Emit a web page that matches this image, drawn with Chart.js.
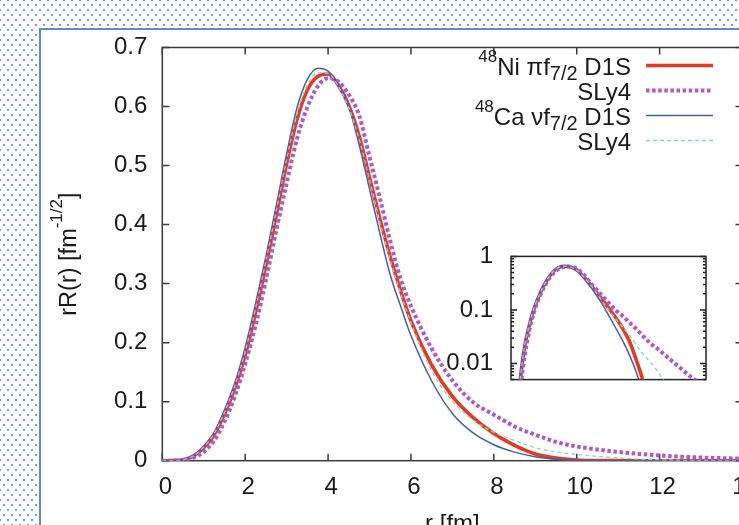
<!DOCTYPE html>
<html>
<head>
<meta charset="utf-8">
<title>f7/2 radial wave functions</title>
<script src="https://cdn.jsdelivr.net/npm/chart.js@4.4.1/dist/chart.umd.min.js"></script>
<style>
  html, body { margin: 0; padding: 0; }
  body {
    position: relative;
    width: 739px;
    height: 525px;
    overflow: hidden;
    background-color: #fff;
    background-image:
      radial-gradient(circle, #6f9fe0 1px, transparent 1.5px),
      radial-gradient(circle, #6f9fe0 1px, transparent 1.5px);
    background-size: 8px 10px;
    background-position: 0 0, 4px 5px;
  }
  #panel {
    position: absolute;
    left: 39px;
    top: 28px;
    width: 760px;
    height: 560px;
    background: #fff;
    border: 2px solid #5a8ad8;
  }
  #main { position: absolute; left: 0; top: 0; }
  #inset { position: absolute; left: 440px; top: 224px; }
</style>
</head>
<body>
<div id="panel"></div>
<canvas id="main" width="780" height="560"></canvas>
<canvas id="inset" width="290" height="188"></canvas>
<script>
// r grid [fm]
const radius = [0, 0.25, 0.5, 0.75, 1, 1.25, 1.5, 1.75, 2, 2.25, 2.5, 2.75, 3, 3.25, 3.5, 3.75,
  4, 4.25, 4.5, 4.75, 5, 5.25, 5.5, 5.75, 6, 6.5, 7, 7.5, 8, 8.5, 9, 9.5, 10, 10.5, 11, 11.5,
  12, 12.5, 13, 13.5, 14];

// rR(r) [fm^-1/2]
const niD1S = [0, 0.0001, 0.0016, 0.0078, 0.022, 0.044, 0.079, 0.123, 0.179, 0.251, 0.331, 0.416,
  0.503, 0.578, 0.628, 0.651, 0.655, 0.636, 0.602, 0.55, 0.48, 0.41, 0.345, 0.288, 0.237, 0.162,
  0.109, 0.073, 0.046, 0.026, 0.0115, 0.0045, 0.0013, 0.0003, 0.00006, 0.00001, 0.000002,
  0.000001, 0.000001, 0.000001, 0.000001];
const niSLy4 = [0, 0.0001, 0.001, 0.005, 0.015, 0.034, 0.066, 0.109, 0.164, 0.229, 0.306, 0.39,
  0.47, 0.545, 0.599, 0.634, 0.648, 0.642, 0.62, 0.585, 0.515, 0.445, 0.372, 0.308, 0.262, 0.19,
  0.136, 0.099, 0.078, 0.058, 0.044, 0.032, 0.024, 0.019, 0.0148, 0.0115, 0.0089, 0.0069,
  0.0054, 0.0043, 0.0034];
const caD1S = [0, 0.0001, 0.002, 0.009, 0.025, 0.048, 0.086, 0.132, 0.192, 0.266, 0.346, 0.432,
  0.52, 0.598, 0.646, 0.665, 0.66, 0.636, 0.6, 0.535, 0.46, 0.385, 0.315, 0.262, 0.212, 0.135,
  0.08, 0.047, 0.027, 0.0145, 0.0068, 0.0026, 0.0008, 0.0002, 0.00005, 0.00001, 0.000002,
  0.000001, 0.000001, 0.000001, 0.000001];
const caSLy4 = [0, 0.0001, 0.0017, 0.0082, 0.023, 0.046, 0.082, 0.127, 0.185, 0.258, 0.338, 0.423,
  0.51, 0.587, 0.636, 0.657, 0.656, 0.634, 0.598, 0.545, 0.476, 0.405, 0.34, 0.284, 0.234, 0.152,
  0.101, 0.069, 0.048, 0.034, 0.022, 0.0148, 0.0105, 0.0073, 0.0047, 0.0028, 0.0015, 0.0007,
  0.0003, 0.0001, 0.00004];

const xTicks = [0, 2, 4, 6, 8, 10, 12, 14];
const yTicks = [0, 0.1, 0.2, 0.3, 0.4, 0.5, 0.6, 0.7];
const insetTicks = [0.005, 0.006, 0.007, 0.008, 0.009, 0.01, 0.02, 0.03, 0.04, 0.05, 0.06, 0.07,
  0.08, 0.09, 0.1, 0.2, 0.3, 0.4, 0.5, 0.6, 0.7, 0.8, 0.9, 1];
const insetLabels = { 1: "1", 0.1: "0.1", 0.01: "0.01" };

// legend text pieces: [text, font size, baseline shift]
const legendRows = [
  [["48", 17, -13], ["Ni ", 24, 0], ["\u03c0f", 24, 0], ["7/2", 20, 5], [" D1S", 24, 0]],
  [["SLy4", 24, 0]],
  [["48", 17, -13], ["Ca ", 24, 0], ["\u03bdf", 24, 0], ["7/2", 20, 5], [" D1S", 24, 0]],
  [["SLy4", 24, 0]]
];
const yTitle = [["rR(r) [fm", 23.5, 0], ["-1/2", 17, -14], ["]", 23.5, 0]];
const xTitle = "r [fm]";

const FONT = "'Liberation Sans', Arial, sans-serif";
const TEXT = "#1a1a1a";
const AXIS = "#3a3a3a";
Chart.defaults.font.family = FONT;
Chart.defaults.color = TEXT;

const styles = [
  { label: "Ni D1S", values: niD1S, color: "#e63a1f", width: 3.6, dash: [], order: 4 },
  { label: "Ni SLy4", values: niSLy4, color: "#b356cc", width: 4, dash: [3.5, 2.6], order: 3 },
  { label: "Ca D1S", values: caD1S, color: "#3f5fb8", width: 1.5, dash: [], order: 2 },
  { label: "Ca SLy4", values: caSLy4, color: "#86d3d6", width: 1.3, dash: [4, 3], order: 1 }
];

function makeDatasets(logScale) {
  return styles.map((s) => ({
    label: s.label,
    data: radius.map((r, i) => ({ x: r, y: logScale && s.values[i] <= 0 ? null : s.values[i] })),
    borderColor: s.color,
    borderWidth: s.width,
    borderDash: s.dash,
    pointRadius: 0,
    fill: false,
    cubicInterpolationMode: "monotone",
    order: s.order
  }));
}

function drawRich(ctx, parts, x, y, align) {
  let total = 0;
  parts.forEach((p) => {
    ctx.font = p[1] + "px " + FONT;
    total += ctx.measureText(p[0]).width;
  });
  let cx = align === "right" ? x - total : align === "center" ? x - total / 2 : x;
  parts.forEach((p) => {
    ctx.font = p[1] + "px " + FONT;
    ctx.fillText(p[0], cx, y + p[2]);
    cx += ctx.measureText(p[0]).width;
  });
}

// gnuplot style frame with inward ticks on all sides
const frameTicks = {
  id: "frameTicks",
  beforeDatasetsDraw(chart, args, opts) {
    const { ctx, chartArea: a } = chart;
    const xs = chart.scales.x;
    const ys = chart.scales.y;
    ctx.save();
    ctx.strokeStyle = opts.color;
    ctx.lineWidth = opts.width;
    ctx.strokeRect(a.left, a.top, a.right - a.left, a.bottom - a.top);
    ctx.beginPath();
    if (opts.xTicks) {
      xs.ticks.forEach((t) => {
        const px = xs.getPixelForValue(t.value);
        ctx.moveTo(px, a.bottom);
        ctx.lineTo(px, a.bottom - opts.major);
        ctx.moveTo(px, a.top);
        ctx.lineTo(px, a.top + opts.major);
      });
    }
    ys.ticks.forEach((t) => {
      const py = ys.getPixelForValue(t.value);
      const len = t.label === "" ? opts.minor : opts.major;
      ctx.moveTo(a.left, py);
      ctx.lineTo(a.left + len, py);
      ctx.moveTo(a.right, py);
      ctx.lineTo(a.right - len, py);
    });
    ctx.stroke();
    ctx.restore();
  }
};

const legendAndTitles = {
  id: "legendAndTitles",
  afterDraw(chart) {
    const { ctx, chartArea: a } = chart;
    ctx.save();
    ctx.fillStyle = TEXT;
    ctx.textBaseline = "alphabetic";
    // legend
    legendRows.forEach((row, i) => {
      const y = a.top + 18 + i * 25;
      drawRich(ctx, row, a.right - 111.5, y + 9, "right");
      const s = styles[i];
      ctx.save();
      ctx.strokeStyle = s.color;
      ctx.lineWidth = s.width;
      ctx.setLineDash(s.dash);
      ctx.beginPath();
      ctx.moveTo(a.right - 96.5, y);
      ctx.lineTo(a.right - 29.5, y);
      ctx.stroke();
      ctx.restore();
    });
    // x title
    ctx.font = "24px " + FONT;
    ctx.textAlign = "center";
    ctx.fillText(xTitle, (a.left + a.right) / 2, a.bottom + 70);
    ctx.textAlign = "left";
    // y title
    ctx.translate(76, (a.top + a.bottom) / 2);
    ctx.rotate(-Math.PI / 2);
    drawRich(ctx, yTitle, 0, 0, "center");
    ctx.restore();
  }
};

new Chart(document.getElementById("main"), {
  type: "line",
  data: { datasets: makeDatasets(false) },
  options: {
    responsive: false,
    animation: false,
    layout: { padding: { top: 47.5, right: 37.5, left: 0, bottom: 0 } },
    plugins: {
      legend: { display: false },
      tooltip: { enabled: false },
      frameTicks: { color: AXIS, width: 1.5, major: 7, minor: 4, xTicks: true }
    },
    scales: {
      x: {
        type: "linear",
        min: 0,
        max: 14,
        afterBuildTicks: (scale) => { scale.ticks = xTicks.map((v) => ({ value: v })); },
        afterFit: (scale) => { scale.height = 99.3; },
        ticks: { font: { size: 24 }, color: TEXT, padding: 12, labelOffset: 3, maxRotation: 0, autoSkip: false },
        grid: { display: false, drawTicks: false },
        border: { display: false }
      },
      y: {
        type: "linear",
        min: 0,
        max: 0.7,
        afterBuildTicks: (scale) => { scale.ticks = yTicks.map((v) => ({ value: v })); },
        afterFit: (scale) => { scale.width = 162.3; },
        ticks: {
          font: { size: 24 },
          color: TEXT,
          padding: 15,
          autoSkip: false,
          callback: (v) => (v === 0 ? "0" : v.toFixed(1))
        },
        grid: { display: false, drawTicks: false },
        border: { display: false }
      }
    }
  },
  plugins: [frameTicks, legendAndTitles]
});

new Chart(document.getElementById("inset"), {
  type: "line",
  data: { datasets: makeDatasets(true) },
  options: {
    responsive: false,
    animation: false,
    layout: { padding: { top: 32, right: 24, left: 0, bottom: 32 } },
    plugins: {
      legend: { display: false },
      tooltip: { enabled: false },
      frameTicks: { color: "#222", width: 1.5, major: 6, minor: 3, xTicks: false }
    },
    scales: {
      x: { type: "linear", min: 0, max: 14, display: false },
      y: {
        type: "logarithmic",
        min: 0.005,
        max: 1,
        afterBuildTicks: (scale) => { scale.ticks = insetTicks.map((v) => ({ value: v })); },
        afterFit: (scale) => { scale.width = 71; },
        ticks: {
          font: { size: 24 },
          color: TEXT,
          padding: 18,
          autoSkip: false,
          callback: (v) => insetLabels[v] || ""
        },
        grid: { display: false, drawTicks: false },
        border: { display: false }
      }
    }
  },
  plugins: [frameTicks]
});
</script>
</body>
</html>
